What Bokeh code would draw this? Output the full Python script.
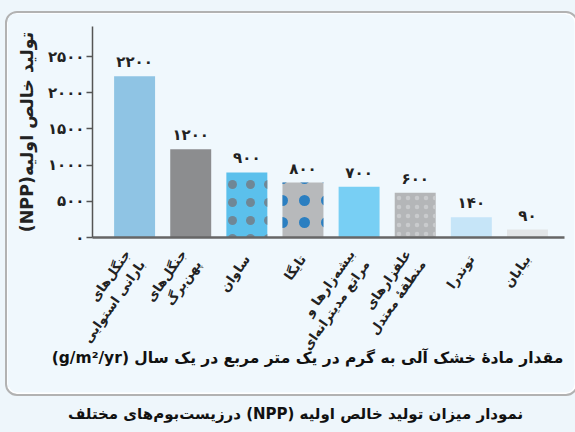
from bokeh.plotting import figure
from bokeh.models import Range1d, FixedTicker, Div
from bokeh.layouts import column
from bokeh.core.properties import value
from bokeh.embed import file_html
from bokeh.resources import INLINE

# ---- data ----
biomes = [
    "جنگل‌های\nبارانی استوایی",
    "جنگل‌های\nپهن‌برگ",
    "ساوان",
    "تایگا",
    "بیشه‌زارها و\nمراتع مدیترانه‌ای",
    "علفزارهای\nمنطقهٔ معتدل",
    "توندرا",
    "بیابان",
]
npp_labels = ["۲۲۰۰", "۱۲۰۰", "۹۰۰", "۸۰۰", "۷۰۰", "۶۰۰", "۱۴۰", "۹۰"]
bar_heights = [2230, 1220, 900, 760, 700, 620, 280, 110]
bar_colors = ["#8fc4e4", "#8c8d8f", "#5bc0ec", "#b7b9bb", "#78cff4", "#b4b6b8", "#c6e5f8", "#e2e5e7"]
hatch_patterns = ["blank", "blank", ".", ".", "blank", ".", "blank", "blank"]
hatch_colors = ["#000000", "#000000", "#6f8796", "#2b7fc1", "#000000", "#c9cbcd", "#000000", "#000000"]
hatch_scales = [10, 10, 18, 22, 10, 9, 10, 10]
hatch_weights = [1, 1, 2, 3, 1, 1, 1, 1]
y_ticks = [0, 500, 1000, 1500, 2000, 2500]
y_tick_labels = ["۰", "۵۰۰", "۱۰۰۰", "۱۵۰۰", "۲۰۰۰", "۲۵۰۰"]

RLE, PDF = "\u202b", "\u202c"
y_title = RLE + "تولید خالص اولیه(NPP)" + PDF
x_title = "مقدار مادهٔ خشک آلی به گرم در یک متر مربع در یک سال (g/m²/yr)"
caption = "نمودار میزان تولید خالص اولیه (NPP) درزیست‌بوم‌های مختلف"

FONT = "DejaVu Sans"
BG = "#eef6fb"
INNER = "#f0f8fd"

xs = list(range(len(biomes)))

fig = figure(width=559, height=374, output_backend="svg", toolbar_location=None,
             x_range=Range1d(-0.75, 7.66), y_range=Range1d(0, 2916),
             min_border_left=85, min_border_right=2, min_border_top=13, min_border_bottom=150)
fig.background_fill_color = INNER
fig.border_fill_color = INNER
fig.outline_line_color = None
fig.xgrid.visible = False
fig.ygrid.visible = False

fig.vbar(x=xs, top=bar_heights, width=0.73, fill_color=bar_colors, line_color=None,
         hatch_pattern=hatch_patterns, hatch_color=hatch_colors, hatch_scale=hatch_scales,
         hatch_weight=hatch_weights)

fig.text(x=xs, y=bar_heights, text=npp_labels, text_align="center", text_baseline="bottom",
         y_offset=-5, text_font=value(FONT), text_font_style="bold", text_font_size="15px",
         text_color="#222222")

# y axis
ya = fig.yaxis[0]
ya.ticker = FixedTicker(ticks=y_ticks)
ya.major_label_overrides = dict(zip(y_ticks, y_tick_labels))
ya.major_tick_out = 6
ya.major_tick_in = 0
ya.minor_tick_line_color = None
ya.axis_line_color = "#555555"
ya.axis_line_width = 1.5
ya.major_tick_line_color = "#555555"
ya.major_tick_line_width = 1.5
ya.major_label_text_font = FONT
ya.major_label_text_font_style = "bold"
ya.major_label_text_font_size = "15px"
ya.major_label_text_color = "#222222"
ya.major_label_standoff = 2
ya.axis_label = y_title
ya.axis_label_text_font = FONT
ya.axis_label_text_font_style = "bold"
ya.axis_label_text_font_size = "17.5px"
ya.axis_label_text_color = "#222222"
ya.axis_label_standoff = 8

# x axis
xa = fig.xaxis[0]
xa.ticker = FixedTicker(ticks=xs)
xa.major_label_overrides = dict(zip(xs, biomes))
xa.major_label_orientation = 0.96
xa.major_tick_line_color = None
xa.minor_tick_line_color = None
xa.axis_line_color = "#666666"
xa.axis_line_width = 2.5
xa.major_label_text_font = FONT
xa.major_label_text_font_style = "bold"
xa.major_label_text_font_size = "13px"
xa.major_label_text_color = "#222222"
xa.major_label_standoff = 13

text_css = {"direction": "rtl", "text-align": "center", "font-family": FONT,
            "font-weight": "bold", "color": "#111111"}

xtitle = Div(text=x_title, width=559, height=42,
             styles=dict(text_css, **{"font-size": "15.5px", "line-height": "22px",
                                      "margin-top": "-40px", "padding-left": "32px",
                                      "box-sizing": "border-box"}))

inner = column(fig, xtitle, spacing=0,
               styles={"border": "2.5px solid #b2b2b2", "border-radius": "12px",
                       "box-shadow": "inset 0 0 0 1.5px #ffffff",
                       "background-color": INNER, "overflow": "hidden",
                       "margin-left": "5px", "margin-top": "11px"})

cap = Div(text=caption, width=575, height=40,
          styles=dict(text_css, **{"font-size": "15px", "padding-top": "3px",
                                   "padding-left": "6px", "box-sizing": "border-box"}))

p = column(inner, cap, spacing=0, styles={"background-color": BG})

open("out.html", "w").write(file_html(p, INLINE))
